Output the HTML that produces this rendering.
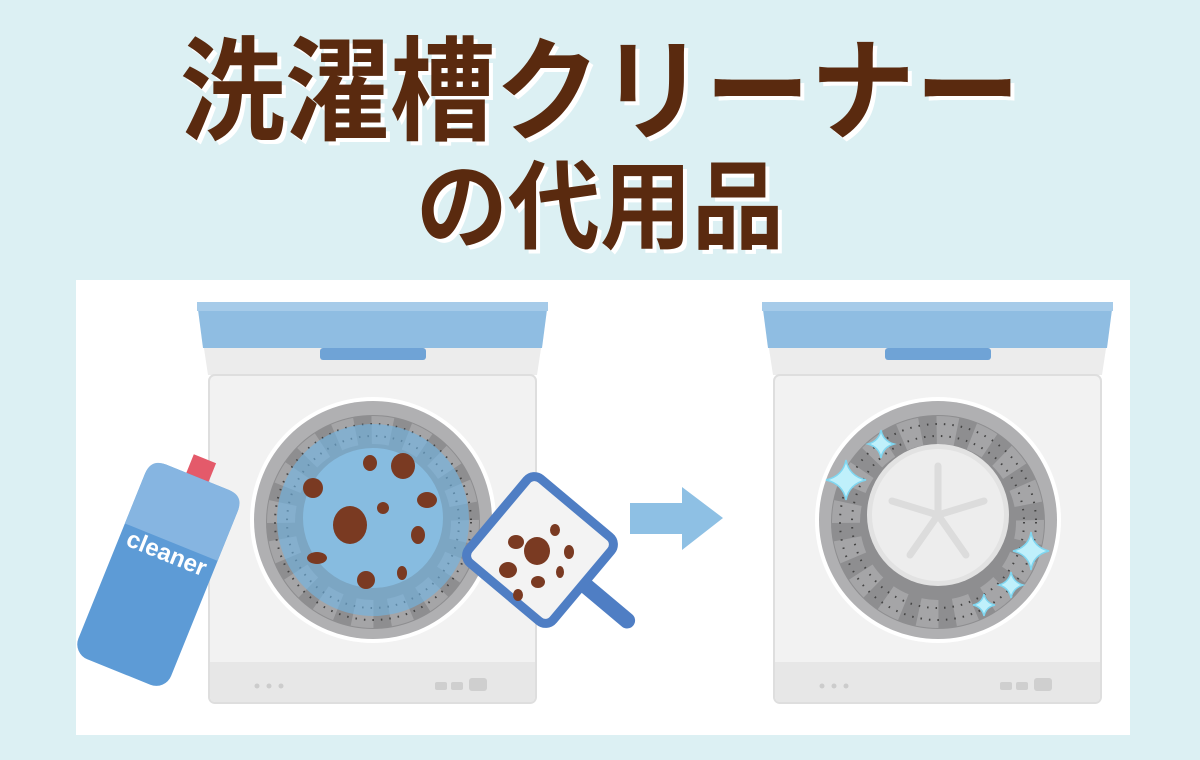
<!DOCTYPE html>
<html><head><meta charset="utf-8"><style>
html,body{margin:0;padding:0;width:1200px;height:760px;overflow:hidden;background:#dcf0f3}
svg{display:block}
</style></head><body>
<svg width="1200" height="760" viewBox="0 0 1200 760" xmlns="http://www.w3.org/2000/svg">
<defs>
<g id="machine">
  <path d="M0,302 H351 L340,375 H11 Z" fill="#ececec"/>
  <path d="M0,302 H351 L345,348 H6 Z" fill="#8fbde2"/>
  <rect x="0" y="302" width="351" height="9" fill="#a6cbe9"/>
  <rect x="123" y="348" width="106" height="12" rx="3" fill="#6fa3d6"/>
  <rect x="12" y="375" width="327" height="328" rx="6" fill="#f2f2f2" stroke="#dedede" stroke-width="2"/>
  <path d="M13,662 H338 V697 Q338,702 333,702 H18 Q13,702 13,697 Z" fill="#e7e7e7"/>
  <circle cx="60" cy="686" r="2.5" fill="#ccc"/><circle cx="72" cy="686" r="2.5" fill="#ccc"/><circle cx="84" cy="686" r="2.5" fill="#ccc"/>
  <rect x="238" y="682" width="12" height="8" rx="2" fill="#cfcfcf"/>
  <rect x="254" y="682" width="12" height="8" rx="2" fill="#cfcfcf"/>
  <rect x="272" y="678" width="18" height="13" rx="3" fill="#cfcfcf"/>
  <circle cx="176" cy="520" r="123" fill="#fff"/>
  <circle cx="176" cy="520" r="119" fill="#b0b0b2"/>
  <circle cx="176" cy="522" r="107" fill="#8e8e90"/>
  <circle cx="176" cy="522" r="92" fill="none" stroke="#a5a5a7" stroke-width="28" stroke-dasharray="20 16"/>
  <circle cx="176" cy="522" r="98" fill="none" stroke="#444" stroke-width="2" stroke-dasharray="1.5 7"/>
  <circle cx="176" cy="522" r="86" fill="none" stroke="#444" stroke-width="2" stroke-dasharray="1.5 7"/>
</g>
</defs>

<g font-family="'Liberation Sans','Noto Sans CJK JP',sans-serif" font-weight="bold" text-anchor="middle">
  <g transform="translate(604,135) scale(1.01,1.08)">
    <text x="0" y="0" font-size="104" fill="#fff">洗濯槽クリーナー</text>
  </g>
  <g transform="translate(600,131) scale(1.01,1.08)">
    <text x="0" y="0" font-size="104" fill="#5a2a0f">洗濯槽クリーナー</text>
  </g>
  <g transform="translate(604,245) scale(1,1.05)">
    <text x="0" y="0" font-size="92" fill="#fff">の代用品</text>
  </g>
  <g transform="translate(600,241) scale(1,1.05)">
    <text x="0" y="0" font-size="92" fill="#5a2a0f">の代用品</text>
  </g>
</g>

<rect x="76" y="280" width="1054" height="455" fill="#fff"/>

<use href="#machine" transform="translate(197,0)"/>
<circle cx="373" cy="520" r="96" fill="#6fb6e6" opacity="0.6"/>
<circle cx="373" cy="518" r="70" fill="#8cc6ec" opacity="0.7"/>
<g fill="#7a3a22">
  <ellipse cx="350" cy="525" rx="17" ry="19"/>
  <ellipse cx="370" cy="463" rx="7" ry="8"/>
  <ellipse cx="403" cy="466" rx="12" ry="13"/>
  <ellipse cx="313" cy="488" rx="10" ry="10"/>
  <ellipse cx="427" cy="500" rx="10" ry="8"/>
  <ellipse cx="383" cy="508" rx="6" ry="6"/>
  <ellipse cx="418" cy="535" rx="7" ry="9"/>
  <ellipse cx="317" cy="558" rx="10" ry="6"/>
  <ellipse cx="366" cy="580" rx="9" ry="9"/>
  <ellipse cx="402" cy="573" rx="5" ry="7"/>
</g>

<g transform="rotate(22,160,570)">
  <rect x="148" y="450" width="24" height="24" fill="#e45a6a"/>
  <rect x="110" y="470" width="100" height="210" rx="16" fill="#5d9bd6"/>
  <path d="M126,470 H194 Q210,470 210,486 V540 H110 V486 Q110,470 126,470 Z" fill="#86b5e1"/>
  <text x="160" y="560" font-family="'Liberation Sans',sans-serif" font-weight="bold" font-size="24" fill="#fff" text-anchor="middle">cleaner</text>
</g>

<g transform="rotate(40,540,550)">
  <rect x="590" y="540" width="70" height="16" rx="8" fill="#4f7ec4"/>
  <rect x="485" y="495" width="110" height="110" rx="10" fill="#f3f3f3" stroke="#4f7ec4" stroke-width="9"/>
</g>
<g fill="#7a3a22">
  <ellipse cx="537" cy="551" rx="13" ry="14"/>
  <ellipse cx="516" cy="542" rx="8" ry="7"/>
  <ellipse cx="555" cy="530" rx="5" ry="6"/>
  <ellipse cx="569" cy="552" rx="5" ry="7"/>
  <ellipse cx="508" cy="570" rx="9" ry="8"/>
  <ellipse cx="538" cy="582" rx="7" ry="6"/>
  <ellipse cx="518" cy="595" rx="5" ry="6"/>
  <ellipse cx="560" cy="572" rx="4" ry="6"/>
</g>

<path d="M630,503 H682 V487 L723,518 L682,550 V534 H630 Z" fill="#8ec0e4"/>

<use href="#machine" transform="translate(762,0)"/>
<circle cx="938" cy="515" r="71" fill="#e2e2e2"/>
<circle cx="938" cy="515" r="66" fill="#ededed"/>
<g stroke="#dcdcdc" stroke-width="7" stroke-linecap="round">
  <line x1="938" y1="515" x2="938" y2="466"/>
  <line x1="938" y1="515" x2="984" y2="501"/>
  <line x1="938" y1="515" x2="966" y2="555"/>
  <line x1="938" y1="515" x2="910" y2="555"/>
  <line x1="938" y1="515" x2="892" y2="501"/>
</g>
<g fill="#bff0fb" stroke="#7fd6f0" stroke-width="1.5">
  <path d="M846,460 Q849,476 866,480 Q849,484 846,500 Q843,484 826,480 Q843,476 846,460Z"/>
  <path d="M881,430 Q883,441 894,444 Q883,447 881,458 Q879,447 868,444 Q879,441 881,430Z"/>
  <path d="M1031,532 Q1033,547 1049,551 Q1033,555 1031,570 Q1029,555 1013,551 Q1029,547 1031,532Z"/>
  <path d="M1011,572 Q1013,582 1023,585 Q1013,588 1011,598 Q1009,588 999,585 Q1009,582 1011,572Z"/>
  <path d="M984,594 Q986,603 995,605 Q986,607 984,616 Q982,607 973,605 Q982,603 984,594Z"/>
</g>
</svg>
</body></html>
